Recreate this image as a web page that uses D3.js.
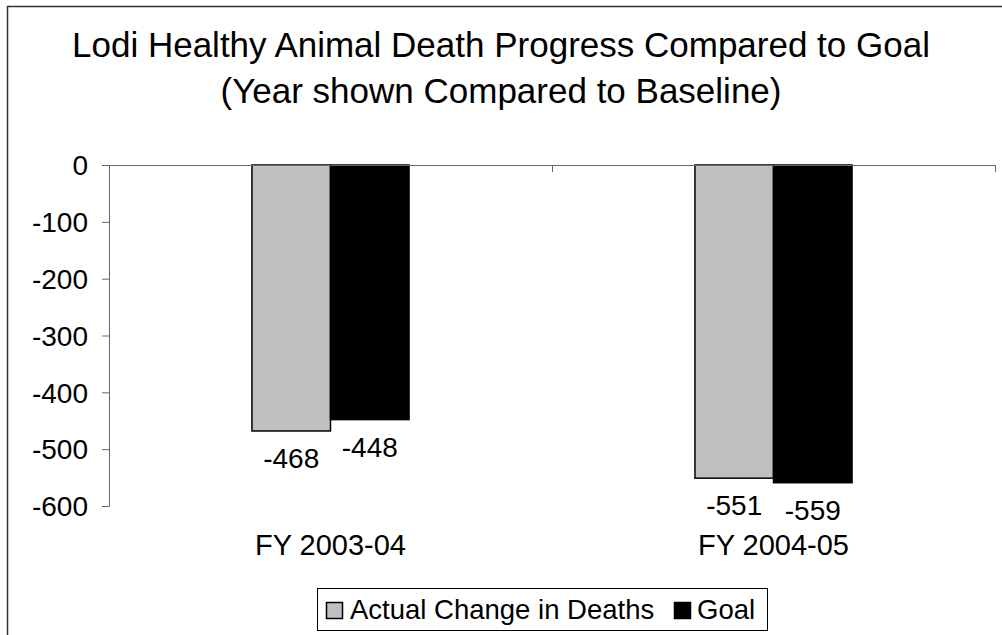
<!DOCTYPE html>
<html><head><meta charset="utf-8">
<script src="https://cdn.jsdelivr.net/npm/d3@7"></script>
<style>
html,body{margin:0;padding:0;background:#fff;overflow:hidden}
svg{display:block}
text{font-family:"Liberation Sans",Arial,sans-serif;fill:#000}
</style></head><body>
<svg id="c" width="1002" height="635"></svg>
<script>
const categories = ["FY 2003-04", "FY 2004-05"];
const seriesNames = ["Actual Change in Deaths", "Goal"];
const actualValues = [-468, -551];
const goalValues = [-448, -559];
const yTicks = [0, -100, -200, -300, -400, -500, -600];
const titleLines = ["Lodi Healthy Animal Death Progress Compared to Goal", "(Year shown Compared to Baseline)"];
const colors = ["#C0C0C0", "#000000"];

const svg = d3.select("#c");
const plot = {left: 109, right: 995, top: 165, bottom: 506};

// outer frame (right and bottom edges fall outside the picture)
svg.append("path").attr("d", "M7.5,640 V6.5 H1010")
  .attr("fill", "none").attr("stroke", "#333").attr("stroke-width", 1.5);

// title
svg.selectAll("text.title").data(titleLines).join("text").attr("class", "title")
  .attr("x", 501).attr("y", (d, i) => 57 + i * 46)
  .attr("text-anchor", "middle").attr("font-size", 35).text(d => d);

const y = d3.scaleLinear().domain([-600, 0]).range([plot.bottom, plot.top]);
const x0 = d3.scaleBand().domain(categories).range([plot.left, plot.right]).padding(0);
const x1 = d3.scaleBand().domain(seriesNames).range([0, x0.bandwidth()]).paddingInner(0).paddingOuter(1.82);

const data = categories.map((c, i) => ({cat: c, vals: [actualValues[i], goalValues[i]]}));

// bars
const g = svg.append("g");
data.forEach(d => {
  d.vals.forEach((v, j) => {
    const bx = x0(d.cat) + x1(seriesNames[j]);
    g.append("rect")
      .attr("x", bx).attr("y", y(0))
      .attr("width", x1.bandwidth()).attr("height", y(v) - y(0))
      .attr("fill", colors[j]).attr("stroke", "#000").attr("stroke-width", 1.5);
    g.append("text")
      .attr("x", bx + x1.bandwidth() / 2).attr("y", y(v) + 37)
      .attr("text-anchor", "middle").attr("font-size", 28).text(String(v));
  });
});

// y axis
const yAxis = d3.axisLeft(y).tickValues(yTicks).tickSize(7).tickPadding(14).tickFormat(d => String(d));
const ya = svg.append("g").attr("transform", `translate(${plot.left},0)`).call(yAxis);
ya.select(".domain").attr("stroke", "#666").attr("stroke-width", 1);
ya.selectAll(".tick line").attr("stroke", "#666");
ya.selectAll(".tick text").attr("font-size", 28).attr("dy", "0.35em")
  .attr("font-family", "Liberation Sans, Arial, sans-serif").attr("fill", "#000");

// x axis at zero line
const boundaries = [plot.left, ...categories.map(c => x0(c) + x0.bandwidth())];
svg.append("line").attr("x1", plot.left).attr("x2", plot.right).attr("y1", y(0) + 0.5).attr("y2", y(0) + 0.5)
  .attr("stroke", "#666").attr("stroke-width", 1);
svg.selectAll("line.xt").data(boundaries).join("line").attr("class", "xt")
  .attr("x1", d => d + 0.5).attr("x2", d => d + 0.5).attr("y1", y(0)).attr("y2", y(0) + 7)
  .attr("stroke", "#666");

// category labels
svg.selectAll("text.cat").data(categories).join("text").attr("class", "cat")
  .attr("x", d => x0(d) + x0.bandwidth() / 2).attr("y", 555)
  .attr("text-anchor", "middle").attr("font-size", 29).text(d => d);

// legend
const lg = svg.append("g");
lg.append("rect").attr("x", 317.5).attr("y", 588.5).attr("width", 450).attr("height", 42)
  .attr("fill", "#fff").attr("stroke", "#000").attr("stroke-width", 1);
const legendPos = [{sx: 326, tx: 350}, {sx: 674, tx: 697}];
seriesNames.forEach((s, j) => {
  lg.append("rect").attr("x", legendPos[j].sx + 0.5).attr("y", 602.5).attr("width", 16).attr("height", 16)
    .attr("fill", colors[j]).attr("stroke", "#000").attr("stroke-width", 1.5);
  lg.append("text").attr("x", legendPos[j].tx).attr("y", 619).attr("font-size", 27.5).text(s);
});
</script>
</body></html>
